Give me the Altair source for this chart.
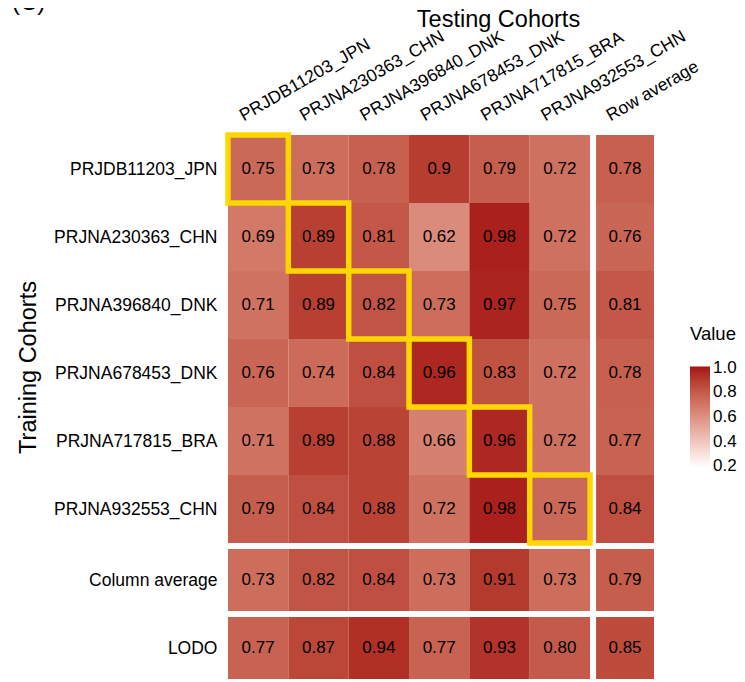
import altair as alt
import pandas as pd

# ---------------- data ----------------
cohorts = ["PRJDB11203_JPN", "PRJNA230363_CHN", "PRJNA396840_DNK",
           "PRJNA678453_DNK", "PRJNA717815_BRA", "PRJNA932553_CHN"]
row_names = cohorts + ["Column average", "LODO"]
col_names = cohorts + ["Row average"]

auc = [
    [0.75, 0.73, 0.78, 0.90, 0.79, 0.72],
    [0.69, 0.89, 0.81, 0.62, 0.98, 0.72],
    [0.71, 0.89, 0.82, 0.73, 0.97, 0.75],
    [0.76, 0.74, 0.84, 0.96, 0.83, 0.72],
    [0.71, 0.89, 0.88, 0.66, 0.96, 0.72],
    [0.79, 0.84, 0.88, 0.72, 0.98, 0.75],
]
row_average = [0.78, 0.76, 0.81, 0.78, 0.77, 0.84]
column_average = [0.73, 0.82, 0.84, 0.73, 0.91, 0.73]
column_average_mean = 0.79
lodo = [0.77, 0.87, 0.94, 0.77, 0.93, 0.80]
lodo_mean = 0.85
legend_ticks = [0.2, 0.4, 0.6, 0.8, 1.0]
color_limits = [0.19, 1.01]

# ---------------- layout (units of one cell) ----------------
GAP_X, AVG_W = 0.1, 0.96
GAP_Y, BOT_H = 0.09, 0.91
X_MAX = 6 + GAP_X + AVG_W
Y_MAX = 6 + 2 * GAP_Y + 2 * BOT_H
W = round(X_MAX * 60.4)
H = round(Y_MAX * 68)


def col_span(j):
    if j < 6:
        return j, j + 1
    return 6 + GAP_X, 6 + GAP_X + AVG_W


def row_span(i):
    if i < 6:
        return i, i + 1
    if i == 6:
        return 6 + GAP_Y, 6 + GAP_Y + BOT_H
    s = 6 + 2 * GAP_Y + BOT_H
    return s, s + BOT_H


records = []
for i in range(8):
    for j in range(7):
        if i < 6 and j < 6:
            v = auc[i][j]
            lab = f"{v:g}"
        elif i < 6:
            v = row_average[i]
            lab = f"{v:.2f}"
        elif i == 6:
            v = column_average[j] if j < 6 else column_average_mean
            lab = f"{v:.2f}"
        else:
            v = lodo[j] if j < 6 else lodo_mean
            lab = f"{v:.2f}"
        x0, x1 = col_span(j)
        y0, y1 = row_span(i)
        records.append(dict(train=row_names[i], test=col_names[j], value=v, label=lab,
                            x0=x0, x1=x1, y0=y0, y1=y1,
                            xc=(x0 + x1) / 2, yc=(y0 + y1) / 2,
                            diag=(i == j and i < 6)))
df = pd.DataFrame(records)

x_centers = [sum(col_span(j)) / 2 for j in range(7)]
y_centers = [sum(row_span(i)) / 2 for i in range(8)]
x_expr = "[" + ",".join(f"'{c}'" for c in col_names) + "][floor(datum.value)]"
y_expr = "[" + ",".join(f"'{r}'" for r in row_names) + "][floor(datum.value)]"

FONT = "Liberation Sans"

x_scale = alt.Scale(domain=[0, X_MAX], nice=False, zero=False)
y_scale = alt.Scale(domain=[0, Y_MAX], nice=False, zero=False, reverse=True)

x_axis = alt.Axis(orient="top", values=x_centers, labelExpr=x_expr,
                  labelAngle=-30, labelAlign="left", labelBaseline="alphabetic",
                  labelOffset=-15, labelPadding=14, labelFontSize=17.5,
                  labelOverlap=False, labelBound=False, labelLimit=400,
                  title="Testing Cohorts", titleFontSize=23.5, titleX=270, titleY=-109,
                  titleAlign="center", titleBaseline="alphabetic", titleAngle=0)
y_axis = alt.Axis(orient="left", values=y_centers, labelExpr=y_expr,
                  labelAlign="right", labelBaseline="middle", labelPadding=11,
                  labelFontSize=17.5, labelOverlap=False, labelBound=False, labelLimit=400,
                  title="Training Cohorts", titleFontSize=23.5, titleX=-193, titleY=232,
                  titleAlign="center", titleBaseline="alphabetic", titleAngle=-90)

color = alt.Color("value:Q",
                  scale=alt.Scale(domain=color_limits, range=["#FFFFFF", "#A50F15"],
                                  interpolate="lab"),
                  legend=alt.Legend(title="Value", orient="none", legendX=462, legendY=190,
                                    direction="vertical", gradientLength=101,
                                    gradientThickness=20, titleFontSize=18.5,
                                    titleFontWeight="normal", labelFontSize=17,
                                    values=legend_ticks, format=".1f",
                                    labelOverlap=False, titlePadding=23, labelOffset=3))

base = alt.Chart(df)
X = alt.X("x0:Q", scale=x_scale, axis=x_axis)
Y = alt.Y("y0:Q", scale=y_scale, axis=y_axis)

tiles = base.mark_rect().encode(x=X, x2="x1:Q", y=Y, y2="y1:Q", color=color)
texts = base.mark_text(fontSize=17, color="black", font=FONT).encode(
    x=alt.X("xc:Q", scale=x_scale, axis=x_axis),
    y=alt.Y("yc:Q", scale=y_scale, axis=y_axis),
    text="label:N")
boxes = base.transform_filter("datum.diag").mark_rect(
    fillOpacity=0, stroke="#FFD700", strokeWidth=5.5).encode(
    x=X, x2="x1:Q", y=Y, y2="y1:Q")
tag = alt.Chart(pd.DataFrame({"tag": ["(C)"]})).mark_text(
    fontSize=24, align="left", baseline="alphabetic", font=FONT, color="black").encode(
    text="tag:N", x=alt.value(-216), y=alt.value(-125))

chart = alt.layer(tiles, texts, boxes, tag).properties(
    width=W, height=H,
    autosize=alt.AutoSizeParams(type="none"),
    padding={"left": 220, "top": 127, "right": 729 - 220 - W, "bottom": 0},
).configure_view(stroke=None).configure_axis(
    domain=False, ticks=False, grid=False, tickSize=0,
    labelFont=FONT, titleFont=FONT, labelColor="black", titleColor="black",
    titleFontWeight="normal"
).configure_legend(labelFont=FONT, titleFont=FONT, labelColor="black", titleColor="black")

chart.save("out.html", embed_options={"renderer": "svg", "actions": False})
